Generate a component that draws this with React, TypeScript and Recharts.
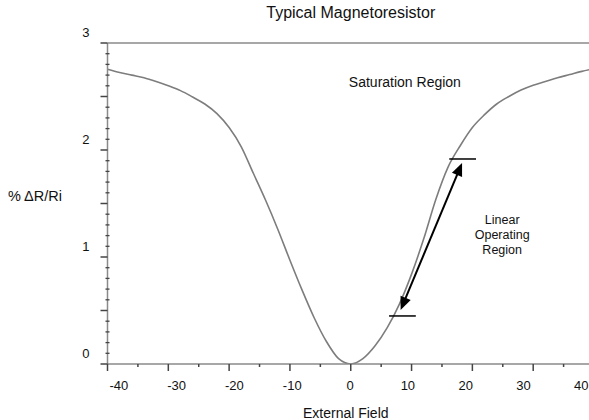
import React from 'react';
import { ComposedChart, Line, XAxis, YAxis, ReferenceLine, ReferenceDot } from 'recharts';

const fieldValues = [-40, -38, -36, -34, -32, -30, -28, -26, -24, -22, -20, -18, -16, -14, -12, -10, -8, -6, -4, -2, 0, 2, 4, 6, 8, 10, 12, 14, 16, 18, 20, 22, 24, 26, 28, 30, 32, 34, 36, 38, 40];
const deltaR = [2.755, 2.725, 2.7, 2.675, 2.64, 2.6, 2.555, 2.495, 2.43, 2.34, 2.21, 2.03, 1.78, 1.53, 1.26, 0.97, 0.69, 0.43, 0.21, 0.05, 0.0, 0.05, 0.17, 0.34, 0.56, 0.84, 1.17, 1.54, 1.84, 2.04, 2.21, 2.33, 2.43, 2.5, 2.56, 2.605, 2.64, 2.675, 2.705, 2.735, 2.76];

const xTickValues = [-40, -35, -30, -25, -20, -15, -10, -5, 0, 5, 10, 15, 20, 25, 30, 35, 40];
const xLabelValues = [-40, -30, -20, -10, 0, 10, 20, 30, 40];
const yTickValues = [0, 0.1, 0.2, 0.3, 0.4, 0.5, 0.6, 0.7, 0.8, 0.9, 1, 1.1, 1.2, 1.3, 1.4, 1.5, 1.6, 1.7, 1.8, 1.9, 2, 2.1, 2.2, 2.3, 2.4, 2.5, 2.6, 2.7, 2.8, 2.9, 3];
const yLabelValues = [0, 1, 2, 3];

const lowerBar = [{ x: 6.3, y: 0.449 }, { x: 10.7, y: 0.449 }];
const upperBar = [{ x: 16.2, y: 1.916 }, { x: 20.6, y: 1.916 }];
const arrowEnds = [{ x: 8.2, y: 0.505 }, { x: 18.3, y: 1.879 }];

const titleText = 'Typical Magnetoresistor';
const xTitle = 'External Field';
const yTitle = '% \u0394R/Ri';
const saturationLabel = { x: 8.9, y: 2.635, text: 'Saturation Region' };
const linearLabel = { x: 24.9, y: 1.206, lines: ['Linear', 'Operating', 'Region'] };

const data = fieldValues.map((f, i) => ({ field: f, dr: deltaR[i] }));

const FONT = '"Liberation Sans", Arial, sans-serif';
const AXIS_GRAY = '#8a8a8a';
const TICK_DARK = '#444';

const isMult = (v: number, m: number) => Math.abs(v / m - Math.round(v / m)) < 1e-6;

const YTick = (props: any) => {
  const { x, y, payload } = props;
  const v = payload.value;
  const major = isMult(v, 0.5);
  const showLabel = yLabelValues.some((l) => Math.abs(l - v) < 1e-6);
  return (
    <g>
      {major ? (
        <line x1={x - 7} y1={y} x2={x} y2={y} stroke={TICK_DARK} strokeWidth={1.5} />
      ) : (
        <line x1={x - 2} y1={y} x2={x + 2} y2={y} stroke={TICK_DARK} strokeWidth={1.3} />
      )}
      {showLabel && (
        <text x={x - 18} y={y - 11} dy="0.35em" textAnchor="end" fontSize={13} fontFamily={FONT} fill="#111">
          {v}
        </text>
      )}
    </g>
  );
};

const XTick = (props: any) => {
  const { x, y, payload } = props;
  const major = isMult(payload.value, 10);
  return (
    <line x1={x} y1={y} x2={x} y2={y + (major ? 7 : 3)} stroke={TICK_DARK} strokeWidth={1.5} />
  );
};

const ArrowShape = (props: any) => {
  const { x1, y1, x2, y2 } = props;
  if ([x1, y1, x2, y2].some((v) => typeof v !== 'number' || isNaN(v))) return <g />;
  const dx = x2 - x1;
  const dy = y2 - y1;
  const len = Math.sqrt(dx * dx + dy * dy);
  const ux = dx / len;
  const uy = dy / len;
  const px = -uy;
  const py = ux;
  const hl = 13;
  const hw = 5.5;
  const head = (tx: number, ty: number, dirx: number, diry: number) => {
    const bx = tx - dirx * hl;
    const by = ty - diry * hl;
    return `${tx},${ty} ${bx + px * hw},${by + py * hw} ${bx - px * hw},${by - py * hw}`;
  };
  return (
    <g>
      <line x1={x1 + ux * 8} y1={y1 + uy * 8} x2={x2 - ux * 8} y2={y2 - uy * 8} stroke="#000" strokeWidth={2} />
      <polygon points={head(x1, y1, -ux, -uy)} fill="#000" />
      <polygon points={head(x2, y2, ux, uy)} fill="#000" />
    </g>
  );
};

const LinearLabel = (props: any) => {
  const vb = props.viewBox || {};
  const cx = (vb.x || 0) + (vb.width || 0) / 2;
  const cy = (vb.y || 0) + (vb.height || 0) / 2;
  return (
    <text x={cx} y={cy - 15} textAnchor="middle" fontSize={12.5} fontFamily={FONT} fill="#111">
      {linearLabel.lines.map((l, i) => (
        <tspan key={l} x={cx} dy={i === 0 ? '0.35em' : 15}>
          {l}
        </tspan>
      ))}
    </text>
  );
};

export default function App() {
  return (
    <div style={{ position: 'absolute', left: 0, top: 0, width: 589, height: 420, background: '#fff' }}>
      <div
        style={{
          position: 'absolute',
          left: 0,
          width: 701.5,
          top: 3,
          textAlign: 'center',
          fontFamily: FONT,
          fontSize: 16,
          color: '#111',
          lineHeight: '19px',
          whiteSpace: 'nowrap',
        }}
      >
        {titleText}
      </div>
      <ComposedChart
        width={589}
        height={420}
        data={data}
        margin={{ top: 43, right: -5, bottom: 0, left: 0 }}
        style={{ position: 'absolute', left: 0, top: 0 }}
      >
        <XAxis
          xAxisId="b_labels"
          dataKey="field"
          type="number"
          domain={[-41.96, 42.2]}
          ticks={xLabelValues}
          interval={0}
          allowDataOverflow
          height={55}
          tickSize={0}
          tickMargin={16}
          tickLine={false}
          axisLine={false}
          tick={{ fontSize: 13, fontFamily: FONT, fill: '#111' }}
          label={{ value: xTitle, position: 'insideBottom', offset: 2, dx: -5, fontSize: 14, fontFamily: FONT, fill: '#111' }}
        />
        <XAxis
          xAxisId="a_main"
          dataKey="field"
          type="number"
          domain={[-40, 40]}
          ticks={xTickValues}
          interval={0}
          allowDataOverflow
          height={1}
          tickSize={0}
          tickMargin={0}
          tick={<XTick />}
          tickLine={false}
          axisLine={{ stroke: AXIS_GRAY, strokeWidth: 1.5 }}
        />
        <YAxis
          type="number"
          domain={[0, 3]}
          ticks={yTickValues}
          interval={0}
          allowDataOverflow
          width={107.5}
          tickSize={0}
          tickMargin={0}
          tickLine={false}
          tick={<YTick />}
          axisLine={{ stroke: AXIS_GRAY, strokeWidth: 1.5 }}
          label={{ value: yTitle, position: 'insideLeft', offset: 8, dy: -8, fontSize: 14.5, fontFamily: FONT, fill: '#111' }}
        />
        <ReferenceLine xAxisId="a_main" y={3} stroke={AXIS_GRAY} strokeWidth={1.5} ifOverflow="visible" />
        <Line
          xAxisId="a_main"
          type="monotone"
          dataKey="dr"
          stroke="#7d7d7d"
          strokeWidth={1.6}
          dot={false}
          isAnimationActive={false}
        />
        <ReferenceLine xAxisId="a_main" segment={lowerBar} stroke="#000" strokeWidth={1.5} />
        <ReferenceLine xAxisId="a_main" segment={upperBar} stroke="#000" strokeWidth={1.5} />
        <ReferenceLine xAxisId="a_main" segment={arrowEnds} shape={<ArrowShape />} />
        <ReferenceDot
          xAxisId="a_main"
          x={saturationLabel.x}
          y={saturationLabel.y}
          r={0}
          fill="none"
          stroke="none"
          label={{ value: saturationLabel.text, position: 'center', fontSize: 14, fontFamily: FONT, fill: '#111' }}
        />
        <ReferenceDot
          xAxisId="a_main"
          x={linearLabel.x}
          y={linearLabel.y}
          r={0}
          fill="none"
          stroke="none"
          label={<LinearLabel />}
        />
      </ComposedChart>
    </div>
  );
}
